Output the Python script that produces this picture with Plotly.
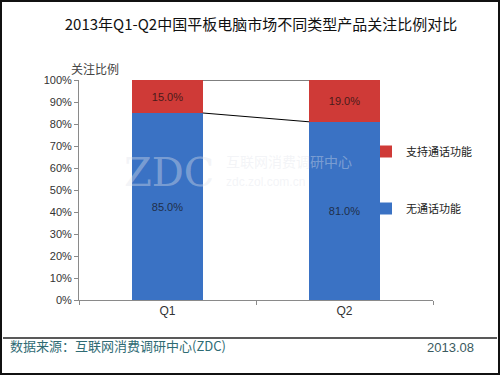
import plotly.graph_objects as go

categories = ["Q1", "Q2"]
no_call = [85.0, 81.0]      # 无通话功能
with_call = [15.0, 19.0]    # 支持通话功能
series_names = ["无通话功能", "支持通话功能"]
title_text = "2013年Q1-Q2中国平板电脑市场不同类型产品关注比例对比"
y_title = "关注比例"
source_text = "数据来源：互联网消费调研中心(ZDC)"
date_text = "2013.08"

BAR_W = 0.4
RED = "#cf3a37"
BLUE = "#3a72c4"
CJK = "Noto Sans CJK SC"
NUM = "Liberation Sans"

xpos = list(range(len(categories)))
fig = go.Figure()

fig.add_trace(go.Bar(
    x=xpos, y=no_call, name=series_names[0], width=BAR_W,
    marker=dict(color=BLUE, line=dict(width=0)),
    texttemplate="%{y:.1f}%", textposition="inside", insidetextanchor="middle",
    textfont=dict(color="#1f2f4a", size=11, family=NUM),
    legendgroup="a", legendrank=2))
fig.add_trace(go.Bar(
    x=xpos, y=with_call, name=series_names[1], width=BAR_W,
    marker=dict(color=RED, line=dict(width=0)),
    texttemplate="%{y:.1f}%", textposition="inside", insidetextanchor="middle",
    textfont=dict(color="#4a1a1a", size=11, family=NUM),
    legendgroup="b", legendrank=1))

# series lines (Excel-style) connecting stack boundaries between adjacent bars
tops_lower = no_call
tops_upper = [a + b for a, b in zip(no_call, with_call)]
for tops in (tops_lower, tops_upper):
    for i in range(len(xpos) - 1):
        fig.add_trace(go.Scatter(
            x=[xpos[i] + BAR_W / 2, xpos[i + 1] - BAR_W / 2],
            y=[tops[i], tops[i + 1]], mode="lines",
            line=dict(color="black", width=1), showlegend=False,
            hoverinfo="skip"))

L, R, T, B = 79, 67, 80, 75
W, H = 500, 375
pw, ph = W - L - R, H - T - B

def px_x(p):
    return (p - L) / pw

def px_y(p):
    return (H - B - p) / ph

fig.update_layout(
    width=W, height=H, autosize=False, barmode="stack",
    margin=dict(l=L, r=R, t=T, b=B, autoexpand=False),
    paper_bgcolor="white", plot_bgcolor="white",
    title=dict(text=title_text, x=261 / W, xanchor="center", y=1 - 25 / H, yanchor="middle",
               font=dict(family=CJK, size=15, color="#111")),
    showlegend=True,
    legend=dict(xref="container", yref="container", x=366 / W, y=1 - 137 / H,
                xanchor="left", yanchor="top",
                traceorder="grouped", tracegroupgap=38,
                font=dict(family=CJK, size=11, color="#222"),
                bgcolor="rgba(0,0,0,0)", itemwidth=30),
    xaxis=dict(range=[-0.5, len(categories) - 0.5], tickmode="array", tickvals=xpos,
               ticktext=categories, showline=True, linecolor="#8a8a8a", linewidth=1,
               ticks="", showgrid=False, zeroline=False,
               tickfont=dict(family=NUM, size=12, color="#333"),
               minor=dict(ticks="outside", tick0=-0.5, dtick=1, ticklen=4, tickcolor="#8a8a8a")),
    yaxis=dict(range=[0, 100], dtick=10, ticksuffix="%", showline=True, linecolor="#8a8a8a",
               linewidth=1, ticks="outside", ticklen=4, tickcolor="#8a8a8a",
               showgrid=False, zeroline=False,
               tickfont=dict(family=NUM, size=11, color="#333")),
)

# y-axis title
fig.add_annotation(text=y_title, xref="paper", yref="paper", x=px_x(69), y=px_y(58),
                   showarrow=False, font=dict(family=CJK, size=12, color="#444"))

# watermark
WM = "rgba(225,228,235,0.40)"
fig.add_annotation(text="ZDC", xref="paper", yref="paper", x=px_x(216), y=px_y(172),
                   xanchor="right", showarrow=False,
                   font=dict(family="DejaVu Serif", size=40, color=WM))
fig.add_annotation(text="互联网消费调研中心", xref="paper", yref="paper", x=px_x(224), y=px_y(161),
                   xanchor="left", showarrow=False, font=dict(family=CJK, size=14, color=WM))
fig.add_annotation(text="zdc.zol.com.cn", xref="paper", yref="paper", x=px_x(224), y=px_y(182),
                   xanchor="left", showarrow=False, font=dict(family=NUM, size=12, color=WM))

# footer
fig.add_shape(type="line", xref="paper", yref="paper", x0=px_x(3), x1=px_x(497),
              y0=px_y(338), y1=px_y(338), line=dict(color="#222", width=1.5))
fig.add_annotation(text=source_text, xref="paper", yref="paper", x=px_x(8), y=px_y(357),
                   xanchor="left", showarrow=False,
                   font=dict(family=CJK, size=13, color="#2f6b74"))
fig.add_annotation(text=date_text, xref="paper", yref="paper", x=px_x(476), y=px_y(357),
                   xanchor="right", showarrow=False,
                   font=dict(family=NUM, size=13, color="#3a5a60"))

# frame
fig.add_shape(type="rect", xref="paper", yref="paper", x0=px_x(1), x1=px_x(499),
              y0=px_y(1), y1=px_y(374), line=dict(color="#111", width=2))

fig.write_html("out.html", config={"displayModeBar": False, "responsive": False},
               default_width="500px", default_height="375px",
               post_script="document.body.style.margin='0';document.body.style.overflow='hidden';")
